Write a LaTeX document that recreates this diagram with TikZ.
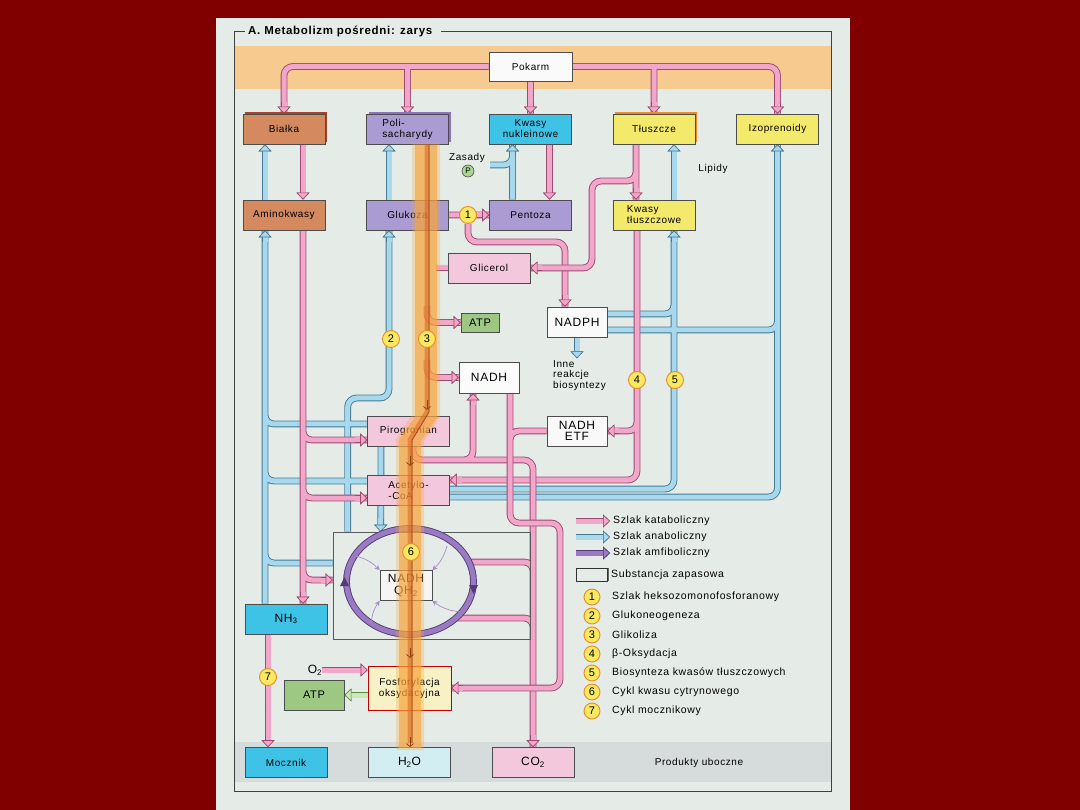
\documentclass[tikz,border=0pt]{standalone}
\usepackage{fontspec}
\setmainfont{Liberation Sans}[LetterSpace=6]
\usetikzlibrary{arrows.meta,calc,shadows}
\pgfdeclarelayer{bg}\pgfdeclarelayer{conn}\pgfdeclarelayer{band}\pgfdeclarelayer{top}
\pgfsetlayers{bg,conn,main,band,top}
\definecolor{outerbg}{HTML}{800000}
\definecolor{panel}{HTML}{E5ECE8}
\definecolor{pinkF}{HTML}{F2A6C8}
\definecolor{pinkD}{HTML}{9C4A72}
\definecolor{blueF}{HTML}{A8D8EE}
\definecolor{blueD}{HTML}{457A92}
\definecolor{purpF}{HTML}{9A7AC0}
\definecolor{purpD}{HTML}{553A78}
\definecolor{purpL}{HTML}{A98ACB}
\definecolor{greenA}{HTML}{CDE8B8}
\definecolor{greenD}{HTML}{5E8A4A}
\definecolor{brownbox}{HTML}{D48A5E}
\definecolor{brownS}{HTML}{A8422A}
\definecolor{violetbox}{HTML}{AA9BD2}
\definecolor{violetS}{HTML}{8B73C4}
\definecolor{orangeS}{HTML}{EE8A2A}
\definecolor{cyanbox}{HTML}{3EC2E6}
\definecolor{yellowbox}{HTML}{F3EA6C}
\definecolor{pinkbox}{HTML}{F3C8DD}
\definecolor{greenbox}{HTML}{9CC884}
\definecolor{waterbox}{HTML}{D3EEF3}
\definecolor{fosfbox}{HTML}{F8F1C6}
\definecolor{topband}{HTML}{F7CB90}
\definecolor{grayband}{HTML}{D6DBDB}
\definecolor{glyco}{HTML}{F7A53A}
\definecolor{glycoD}{HTML}{D9601E}
\definecolor{numF}{HTML}{F8E862}
\definecolor{numD}{HTML}{E88C26}
\definecolor{pgreen}{HTML}{A9D68E}
\tikzset{
  box/.style={draw=black!70, line width=0.7pt, minimum width=82pt, minimum height=30pt, inner sep=1pt, align=center, font=\fontsize{10}{11}\selectfont},
  big/.style={font=\fontsize{12}{11.5}\selectfont},
  store/.style={general shadow={shadow xshift=2.2pt, shadow yshift=2.2pt, fill=#1}},
  cat/.style={draw=pinkF, line width=5pt, rounded corners=9pt, preaction={draw=pinkD, line width=6.8pt}},
  ana/.style={draw=blueF, line width=5pt, rounded corners=9pt, preaction={draw=blueD, line width=6.8pt}},
  amf/.style={draw=purpF, line width=5pt, preaction={draw=purpD, line width=6.8pt}},
  grn/.style={draw=greenA, line width=5pt, preaction={draw=greenD, line width=6.8pt}},
  tipP/.style={-{Triangle[width=13pt,length=7pt,line width=0.6pt,color=pinkD,fill=pinkF]}},
  tipB/.style={-{Triangle[width=13pt,length=7pt,line width=0.6pt,color=blueD,fill=blueF]}},
  tipV/.style={-{Triangle[width=13pt,length=7pt,line width=0.6pt,color=purpD,fill=purpF]}},
  tipG/.style={-{Triangle[width=13pt,length=7pt,line width=0.6pt,color=greenD,fill=greenA]}},
  num/.style={circle, draw=numD, line width=0.9pt, fill=numF, minimum size=17pt, inner sep=0pt, font=\fontsize{11}{11}\selectfont},
  lbl/.style={inner sep=0pt, align=left, font=\fontsize{10}{11}\selectfont},
  leg/.style={inner sep=0pt, anchor=west, font=\fontsize{10.5}{11}\selectfont},
  thinarr/.style={draw=purpL, line width=0.7pt, -{Stealth[length=5pt,width=5pt]}},
  glytip/.style={draw=glycoD!70!black, line width=0.8pt, -{Straight Barb[length=3pt,width=7pt]}},
}
\begin{document}
\begin{tikzpicture}[x=1pt,y=-1pt]
\useasboundingbox (0,0) rectangle (1080,810);
\begin{pgfonlayer}{bg}
\fill[outerbg] (0,0) rectangle (1080,810);
\fill[panel] (216,18) rectangle (850,810);
\fill[topband] (234,46) rectangle (831,89);
\fill[grayband] (234,742) rectangle (831,782);
\end{pgfonlayer}
\node[anchor=west, inner sep=0pt, font=\bfseries\fontsize{11.5}{12}\selectfont] (title) at (248,31) {A. Metabolizm pośredni: zarys};
\draw[black!75, line width=0.8pt] ($(title.east)+(9,0)$) -- (831,31) -- (831,791) -- (234,791) -- (234,31) -- ($(title.west)+(-3,0)$);

% ---------- nodes ----------
\node[box, fill=white!96!gray, minimum width=83pt, minimum height=29pt] (pokarm) at (530.5,66.5) {Pokarm};
\node[box, fill=brownbox, store=brownS] (bialka) at (284,129) {Białka};
\node[box, fill=violetbox, store=violetS, align=left] (polisach) at (407.5,129) {Poli-\\sacharydy};
\node[box, fill=cyanbox] (kwnukl) at (530.5,129) {Kwasy\\nukleinowe};
\node[box, fill=yellowbox, store=orangeS] (tluszcze) at (654,129) {Tłuszcze};
\node[box, fill=yellowbox] (izopren) at (777.5,129) {Izoprenoidy};
\node[box, fill=brownbox] (aminok) at (284,215) {Aminokwasy};
\node[box, fill=violetbox] (glukoza) at (407.5,215) {Glukoza};
\node[box, fill=violetbox] (pentoza) at (530.5,215) {Pentoza};
\node[box, fill=yellowbox, align=left] (kwtl) at (654,215) {Kwasy\\tłuszczowe};
\node[box, fill=pinkbox] (glicerol) at (489,268) {Glicerol};
\node[box, fill=greenbox, minimum width=38pt, minimum height=19pt, font=\fontsize{11}{11}\selectfont] (atp1) at (480,322.5) {ATP};
\node[box, fill=white!95!gray, minimum width=60pt, big] (nadph) at (577,322) {NADPH};
\node[box, fill=white!97!gray, minimum width=60pt, minimum height=31pt, big] (nadh1) at (489,377.5) {NADH};
\node[box, fill=white!95!gray, minimum width=60pt, big] (nadhetf) at (577,431) {NADH\\ETF};
\node[box, fill=pinkbox] (pirog) at (408.5,431) {Pirogronian};
\node[box, fill=pinkbox, align=left] (acetyl) at (408.5,490) {Acetylo-\\-CoA};
\node[draw=black!65, line width=0.6pt, minimum width=197pt, minimum height=107pt, inner sep=0pt] (cyc) at (431.5,585.5) {};
\draw[amf] (410,581.5) ellipse [x radius=63.5pt, y radius=53pt];
\fill[purpD] (340,586) -- (349,586) -- (344.5,577) -- cycle;
\fill[purpD] (469,585) -- (478,585) -- (473.5,594) -- cycle;
\node[box, fill=white!92!gray, minimum width=52pt, big] (nadhqh) at (406,585.5) {NADH\\QH\textsubscript{2}};
\draw[thinarr] (356,556) to[bend left=15] (nadhqh.north west);
\draw[thinarr] (447,546) to[bend left=15] (nadhqh.north east);
\draw[thinarr] (371,624) to[bend left=15] (nadhqh.south west);
\draw[thinarr] (461,612) to[bend left=15] (nadhqh.south east);
\node[box, fill=cyanbox, big] (nh3) at (286,619) {NH\textsubscript{3}};
\node[box, fill=greenbox, minimum width=60pt, font=\fontsize{11}{11}\selectfont] (atp2) at (314,695) {ATP};
\node[box, fill=fosfbox, draw=red!75!black, minimum width=83pt, minimum height=44pt] (fosf) at (409.5,688) {Fosforylacja\\oksydacyjna};
\node[box, fill=cyanbox] (mocznik) at (286,762.5) {Mocznik};
\node[box, fill=waterbox, big] (h2o) at (409.5,762.5) {H\textsubscript{2}O};
\node[box, fill=pinkbox, big] (co2) at (533,762.5) {CO\textsubscript{2}};

\node[lbl] (zasady) at (467,158) {Zasady};
\node[circle, draw=black!70, fill=pgreen, minimum size=12pt, inner sep=0pt, line width=0.6pt, font=\fontsize{8}{8}\selectfont] (pcirc) at (468,171) {P};
\node[lbl] (lipidy) at (713,169) {Lipidy};
\node[lbl, anchor=north west, font=\fontsize{10}{10.5}\selectfont] (inne) at (553,360) {Inne\\reakcje\\biosyntezy};
\node[inner sep=0pt, big] (o2) at (315,670) {O\textsubscript{2}};
\node[lbl] (produkty) at (699,763) {Produkty uboczne};

\begin{pgfonlayer}{top}
\node[num] (c1) at (468,215) {1};
\node[num] (c2) at (391,339) {2};
\node[num] (c3) at (427,339) {3};
\node[num] (c4) at (637,380) {4};
\node[num] (c5) at (675,380) {5};
\node[num] (c6) at (411,552) {6};
\node[num] (c7) at (268,677) {7};
\end{pgfonlayer}

% ---------- connectors ----------
\begin{pgfonlayer}{conn}
% anabolic
\draw[ana,tipB] ($(aminok.north)+(-19,0)$) -- ($(bialka.south)+(-19,0)$);
\draw[ana,tipB] ($(glukoza.north)+(-18.5,0)$) -- ($(polisach.south)+(-18.5,0)$);
\draw[ana,tipB] ($(kwtl.north)+(20,0)$) -- ($(tluszcze.south)+(20,0)$);
\draw[ana] ($(pentoza.north)+(-18,0)$) -- ($(kwnukl.south)+(-18,0)$)
   (490,165) -| ($(kwnukl.south)+(-18,10)$);
\draw[ana,tipB] ($(kwnukl.south)+(-18,12)$) -- ($(kwnukl.south)+(-18,0)$);
\draw[ana] ($(nh3.north)+(-21,0)$) -- ($(aminok.south)+(-19,0)$)
   ($(pirog.west)+(0,-7)$) -| (265,410)
   ($(acetyl.west)+(0,-9)$) -| (265,466)
   ($(cyc.west)+(0,-22.5)$) -| (265,548)
   ($(cyc.north west)+(15,0)$) |- (389,398) -- ($(glukoza.south)+(-18.5,0)$);
\draw[ana,tipB] ($(aminok.south)+(-19,12)$) -- ($(aminok.south)+(-19,0)$);
\draw[ana,tipB] ($(glukoza.south)+(-18.5,12)$) -- ($(glukoza.south)+(-18.5,0)$);
\draw[ana,tipB] ($(pirog.south)+(-27.5,0)$) -- ($(cyc.north west)+(48,0)$);
\draw[ana] ($(acetyl.east)+(0,-1)$) -| ($(kwtl.south)+(20,0)$)
   ($(nadph.east)+(0,-8)$) -| (674,300)
   ($(acetyl.east)+(0,7)$) -| (izopren.south)
   ($(nadph.east)+(0,8)$) -| (777.5,318);
\draw[ana,tipB] ($(kwtl.south)+(20,12)$) -- ($(kwtl.south)+(20,0)$);
\draw[ana,tipB] ($(izopren.south)+(0,12)$) -- (izopren.south);
\draw[ana,tipB] (nadph.south) -- ($(nadph.south)+(0,21)$);
% catabolic
\draw[cat] (bialka.north) |- (pokarm.west) (pokarm.east) -| (izopren.north)
  (polisach.north |- pokarm.west) -- (polisach.north)
  (tluszcze.north |- pokarm.east) -- (tluszcze.north)
  (pokarm.south) -- (kwnukl.north);
\foreach \n in {bialka,polisach,kwnukl,tluszcze,izopren}
  \draw[cat,tipP] ($(\n.north)+(0,-12)$) -- (\n.north);
\draw[cat,tipP] ($(bialka.south)+(19,0)$) -- ($(aminok.north)+(19,0)$);
\draw[cat,tipP] ($(kwnukl.south)+(19,0)$) -- ($(pentoza.north)+(19,0)$);
\draw[cat] (glukoza.east) -- (pentoza.west) (c1.south) |- (565,242) -- ($(nadph.north)+(-12,0)$);
\draw[cat,tipP] ($(pentoza.west)+(-12,0)$) -- (pentoza.west);
\draw[cat,tipP] ($(nadph.north)+(-12,-12)$) -- ($(nadph.north)+(-12,0)$);
\draw[cat] ($(tluszcze.south)+(-18,0)$) -- ($(kwtl.north)+(-18,0)$)
  ($(tluszcze.south)+(-18,22)$) |- (592,181) |- (glicerol.east);
\draw[cat,tipP] ($(kwtl.north)+(-18,-12)$) -- ($(kwtl.north)+(-18,0)$);
\draw[cat,tipP] ($(glicerol.east)+(12,0)$) -- (glicerol.east);
\draw[cat] (glicerol.west) -- ++(-12,0);
\draw[cat] ($(kwtl.south)+(-17,0)$) |- ($(acetyl.east)+(0,-10)$)
  ($(kwtl.south)+(-17,188)$) |- (nadhetf.east);
\draw[cat,tipP] ($(nadhetf.east)+(12,0)$) -- (nadhetf.east);
\draw[cat,tipP] ($(acetyl.east)+(12,-10)$) -- ($(acetyl.east)+(0,-10)$);
\draw[cat] (427,306) |- (atp1.west) (427,360) |- (nadh1.west);
\draw[cat,tipP] ($(atp1.west)+(-12,0)$) -- (atp1.west);
\draw[cat,tipP] ($(nadh1.west)+(-12,0)$) -- (nadh1.west);
\draw[cat] ($(aminok.south)+(19,0)$) -- ($(nh3.north)+(17,0)$)
  (303,426) |- ($(pirog.west)+(0,9)$)
  (303,485) |- ($(acetyl.west)+(0,8)$)
  (303,567) |- ($(cyc.west)+(0,-5.5)$);
\draw[cat,tipP] ($(nh3.north)+(17,-12)$) -- ($(nh3.north)+(17,0)$);
\draw[cat,tipP] ($(pirog.west)+(-12,9)$) -- ($(pirog.west)+(0,9)$);
\draw[cat,tipP] ($(acetyl.west)+(-12,8)$) -- ($(acetyl.west)+(0,8)$);
\draw[cat,tipP] ($(cyc.west)+(-12,-5.5)$) -- ($(cyc.west)+(0,-5.5)$);
\coordinate (j1) at (533,460);
\draw[cat] (413,446) |- (j1) -- (co2.north)
  (458,460) -| ($(nadh1.south)+(-16,0)$)
  (469,562) -| (533,580)
  (456,618) -| (533,636);
\draw[cat,tipP] ($(co2.north)+(0,-12)$) -- (co2.north);
\draw[cat,tipP] ($(nadh1.south)+(-16,12)$) -- ($(nadh1.south)+(-16,0)$);
\draw[cat] ($(nadh1.south)+(21,0)$) |- (560,523) |- (fosf.east)
  (nadhetf.west) -| (510,450);
\draw[cat,tipP] ($(fosf.east)+(12,0)$) -- (fosf.east);
\draw[cat,tipP] (o2.east) -- (o2.east -| fosf.west);
\draw[grn,tipG] (atp2.east -| fosf.west) -- (atp2.east);
\draw[cat,tipP] ($(nh3.south)+(-18,0)$) -- ($(mocznik.north)+(-18,0)$);
\end{pgfonlayer}

% ---------- glycolysis band ----------
\begin{pgfonlayer}{band}
\fill[glyco, opacity=0.3] (412,143) -- (440,143) -- (440,417) -- (424,441) -- (424,750) -- (396,750) -- (396,439) -- (412,415) -- cycle;
\fill[glyco, opacity=0.6] (415,145) -- (437,145) -- (437,418) -- (421,441) -- (421,748) -- (399,748) -- (399,440) -- (415,417) -- cycle;
\draw[glycoD, line width=5pt, opacity=0.5] ($(polisach.south)+(19.5,0)$) -- (427,412) -- (410,440) -- ($(h2o.north)+(0.5,-4)$);
\draw[glycoD!70!black, line width=0.6pt] ($(polisach.south)+(21.5,0)$) -- (429,412) -- (412,440) -- ($(h2o.north)+(2.5,-4)$);
\draw[glytip] (427,400) -- (427,410);
\draw[glytip] (410,456) -- (410,466);
\draw[glytip] (410,648) -- (410,658);
\draw[glytip] ($(h2o.north)+(0.5,-10)$) -- ($(h2o.north)+(0.5,0)$);
\end{pgfonlayer}

% ---------- legend ----------
\node[leg] (lg1) at (613,521) {Szlak kataboliczny};
\node[leg] (lg2) at (613,537) {Szlak anaboliczny};
\node[leg] (lg3) at (613,553) {Szlak amfiboliczny};
\node[leg] (lg4) at (611,575) {Substancja zapasowa};
\draw[cat,tipP] ($(lg1.west)+(-37,0)$) -- ($(lg1.west)+(-3,0)$);
\draw[ana,tipB] ($(lg2.west)+(-37,0)$) -- ($(lg2.west)+(-3,0)$);
\draw[amf,tipV] ($(lg3.west)+(-37,0)$) -- ($(lg3.west)+(-3,0)$);
\node[draw=black!80, line width=0.8pt, fill=panel, minimum width=31pt, minimum height=13pt, inner sep=0pt, general shadow={shadow xshift=1.6pt, shadow yshift=0pt, fill=black!60}] (lgbox) at (591.5,574.5) {};
\foreach \n/\y/\t in {1/597/Szlak heksozomonofosforanowy, 2/616/Glukoneogeneza, 3/635/Glikoliza, 4/654/β-Oksydacja, 5/673/Biosynteza kwasów tłuszczowych, 6/692/Cykl kwasu cytrynowego, 7/711/Cykl mocznikowy}{
  \node[num, minimum size=16pt] (ln\n) at (592,\y) {\n};
  \node[leg] (lt\n) at (612,\y) {\t};
}
\end{tikzpicture}
\end{document}
